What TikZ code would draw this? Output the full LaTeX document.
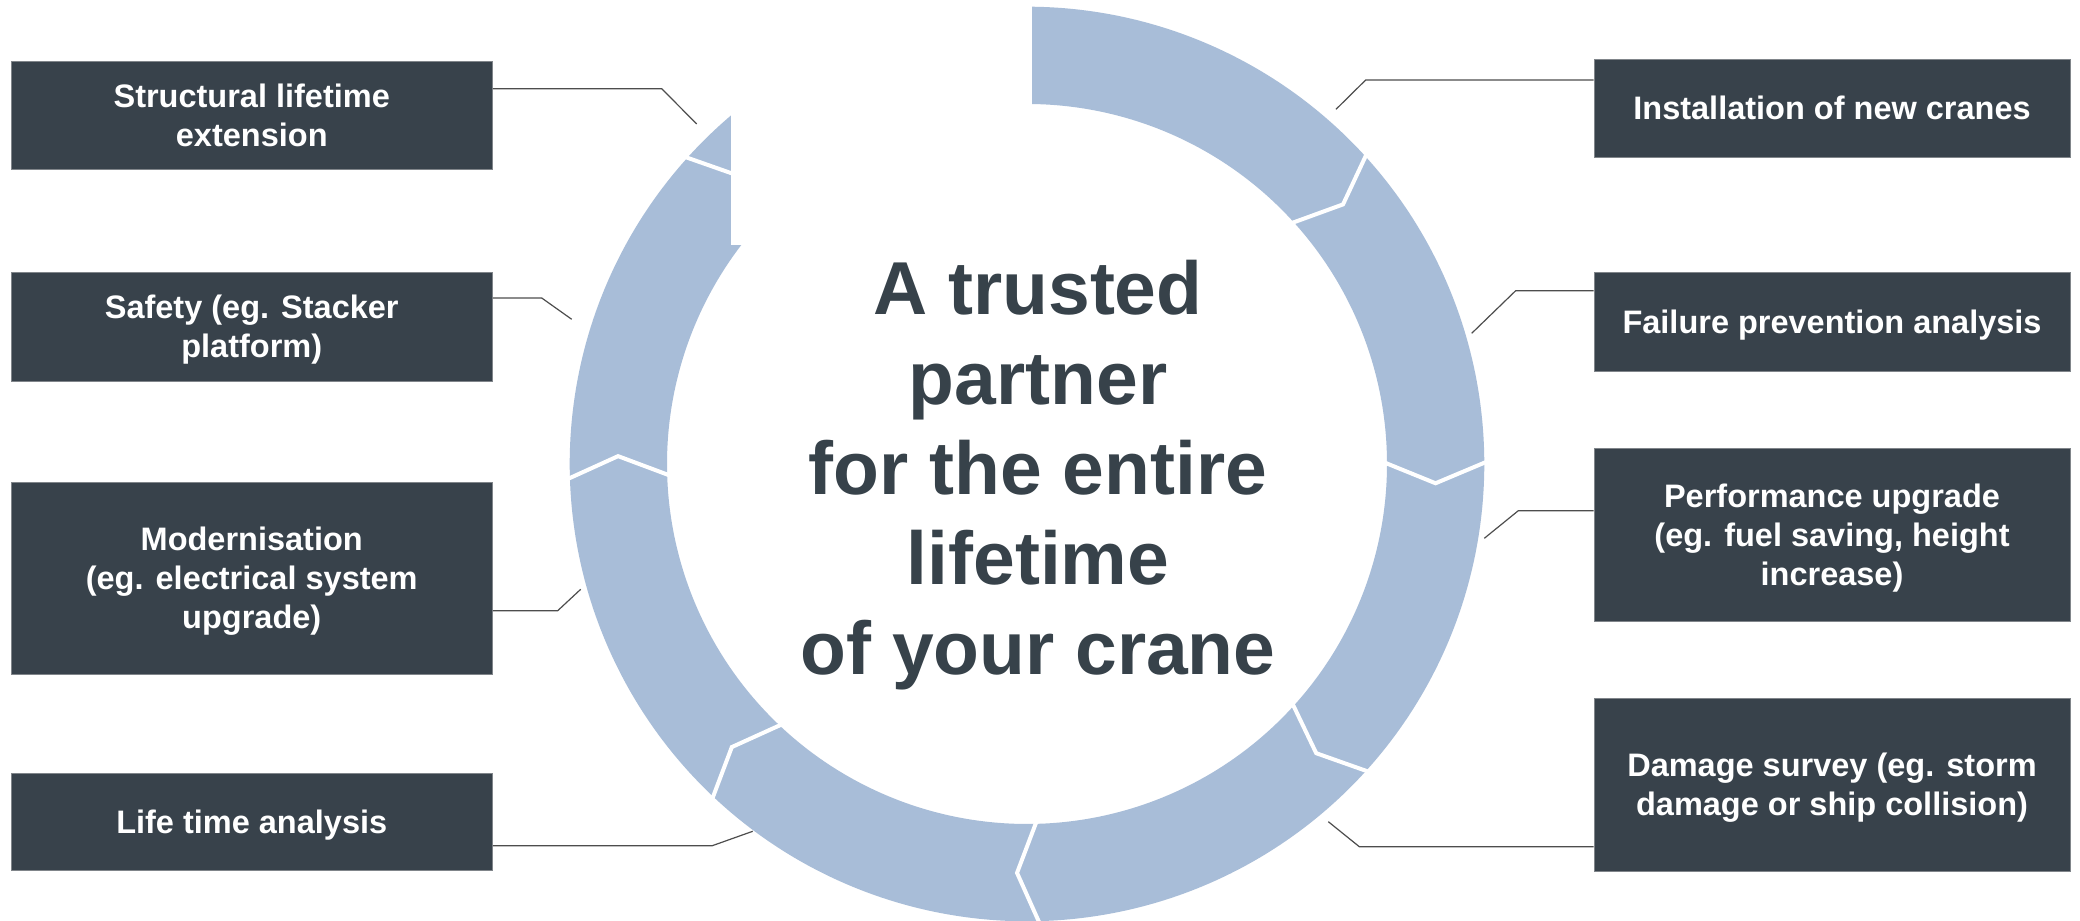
\documentclass[tikz,border=0pt]{standalone}
\usepackage{fontspec}
\setmainfont{Liberation Sans}
\usetikzlibrary{calc}
\definecolor{boxfill}{HTML}{38424B}
\definecolor{boxline}{HTML}{80858A}
\definecolor{ringblue}{HTML}{A8BDD8}
\definecolor{titlecol}{HTML}{37424A}
\definecolor{conncol}{HTML}{4D4D4D}
\tikzset{
  infobox/.style={fill=boxfill, draw=boxline, line width=0.4pt, text=white,
    align=center, inner sep=0pt, text depth=-1.3pt,
    font=\fontsize{16.25}{19.4}\selectfont\bfseries},
  conn/.style={draw=conncol, line width=0.6pt},
  ringseg/.style={fill=ringblue},
  gapline/.style={draw=white, line width=2pt},
}
\begin{document}
\begin{tikzpicture}[x=0.5pt,y=0.5pt]
\useasboundingbox (0,0) rectangle (2080,920);
\fill[white] (0,0) rectangle (2080,920);
\coordinate (C) at (1027,456);
% ring segments (clockwise chevrons)
\foreach \a/\b in {94/42.5, 42.5/0.4, 0.4/-41.9, -41.9/-88.3, -88.3/-133.1, -133.1/-178, -178/-221.8, -221.8/-266}{
  \fill[ringseg] ($(C)+(\a:457.3)$) arc[start angle=\a, end angle=\b, radius=228.65pt]
     -- ($(C)+(\b-3.1:409)$) -- ($(C)+(\b:360)$)
     arc[start angle=\b, end angle=\a, radius=180pt]
     -- ($(C)+(\a-3.1:409)$) -- cycle;
}
\foreach \b in {42.5, 0.4, -41.9, -88.3, -133.1, -178, -221.8}{
  \draw[gapline] ($(C)+(\b:462)$) -- ($(C)+(\b-3.1:409)$) -- ($(C)+(\b:355)$);
}
% opening at the top of the cycle
\fill[white] (730.7,675) rectangle (1032,921);
% centre title
\node[text=titlecol, align=center, inner sep=0pt,
      font=\fontsize{37.5}{45}\selectfont\bfseries] (title) at (1038,445)
  {A trusted\\partner\\for the entire\\lifetime\\of your crane};
% boxes
\node[infobox, minimum width=240.75pt, minimum height=54pt] (l1) at (251.75,805) {Structural lifetime\\extension};
\node[infobox, minimum width=240.75pt, minimum height=54.5pt] (l2) at (251.75,593.5) {Safety (eg. Stacker\\platform)};
\node[infobox, minimum width=240.75pt, minimum height=96pt] (l3) at (251.75,342) {Modernisation\\(eg. electrical system\\upgrade)};
\node[infobox, minimum width=240.75pt, minimum height=48.5pt] (l4) at (251.75,98.5) {Life time analysis};
\node[infobox, minimum width=238pt, minimum height=49pt] (r1) at (1832,812) {Installation of new cranes};
\node[infobox, minimum width=238pt, minimum height=49.5pt] (r2) at (1832,598.5) {Failure prevention analysis};
\node[infobox, minimum width=238pt, minimum height=86.5pt] (r3) at (1832,385.5) {Performance upgrade\\(eg. fuel saving, height\\increase)};
\node[infobox, minimum width=238pt, minimum height=86.5pt] (r4) at (1832,135.5) {Damage survey (eg. storm\\damage or ship collision)};
% connector points
\coordinate (b1) at (661.7,831.3);  \coordinate (e1) at (696.7,796);
\coordinate (b2) at (541.7,622);    \coordinate (e2) at (571.7,600.7);
\coordinate (b3) at (557.7,309.3);  \coordinate (e3) at (580.7,330.7);
\coordinate (b4) at (712.3,74.3);   \coordinate (e4) at (752.7,88.7);
\coordinate (b5) at (1365.7,840);   \coordinate (e5) at (1336,810.7);
\coordinate (b6) at (1515.7,629.3); \coordinate (e6) at (1471.7,586.7);
\coordinate (b7) at (1518.3,409.3); \coordinate (e7) at (1484.3,381.7);
\coordinate (b8) at (1359.3,73.3);  \coordinate (e8) at (1328.3,98.3);
\draw[conn] (l1.east |- b1) -- (b1) -- (e1);
\draw[conn] (l2.east |- b2) -- (b2) -- (e2);
\draw[conn] (l3.east |- b3) -- (b3) -- (e3);
\draw[conn] (l4.east |- b4) -- (b4) -- (e4);
\draw[conn] (r1.west |- b5) -- (b5) -- (e5);
\draw[conn] (r2.west |- b6) -- (b6) -- (e6);
\draw[conn] (r3.west |- b7) -- (b7) -- (e7);
\draw[conn] (r4.west |- b8) -- (b8) -- (e8);
\end{tikzpicture}
\end{document}
